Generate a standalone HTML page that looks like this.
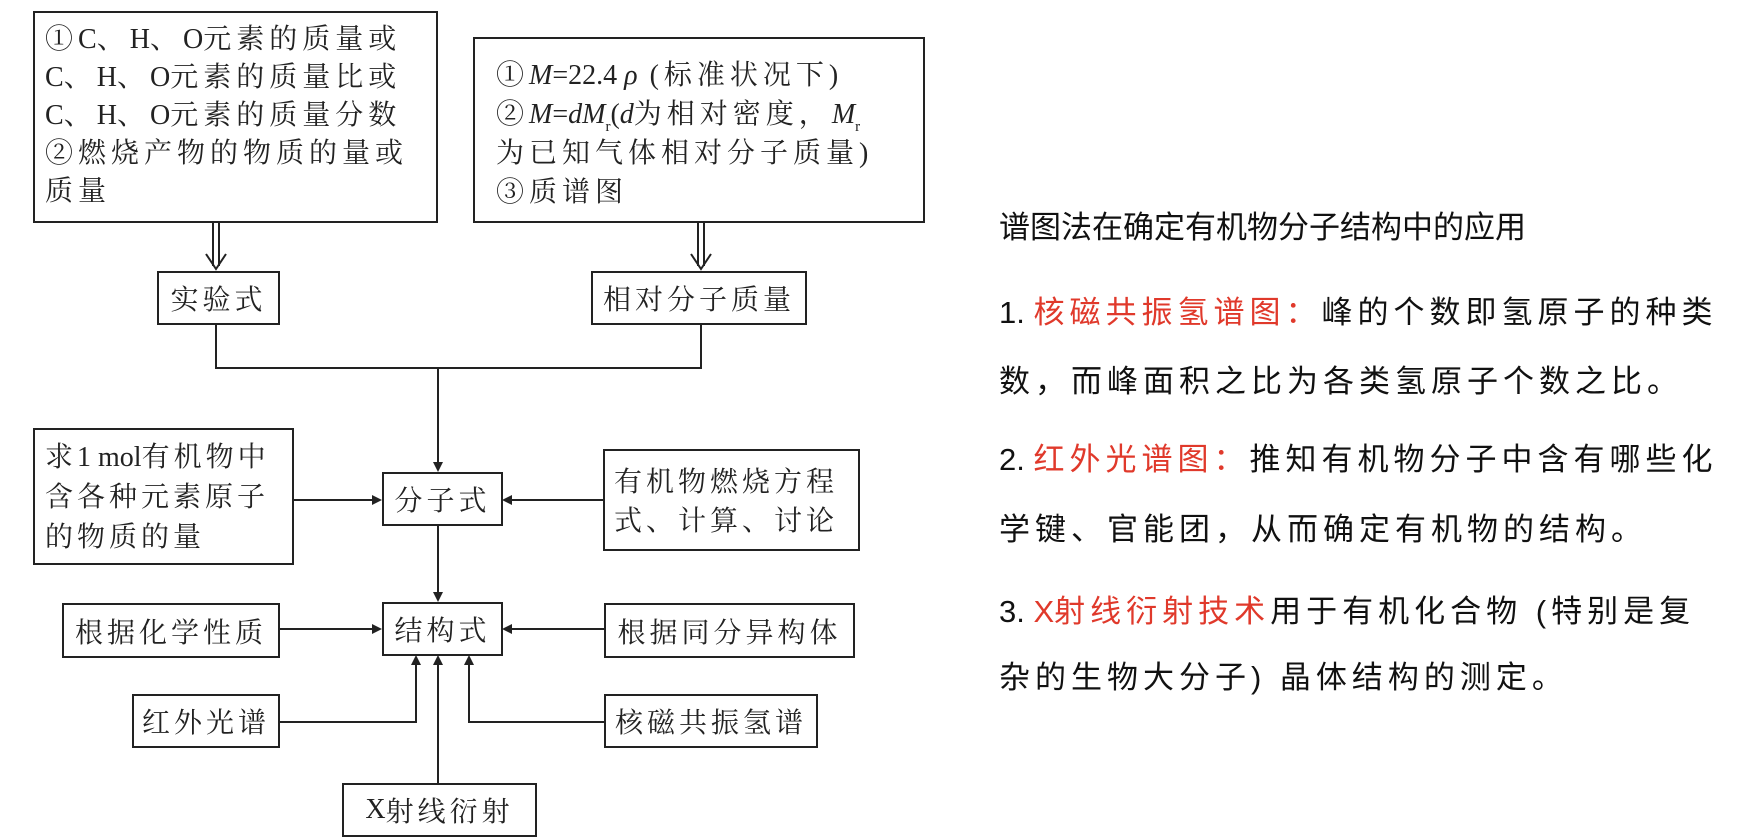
<!DOCTYPE html>
<html><head><meta charset="utf-8"><style>
body{margin:0;background:#fff;}
#c{position:relative;width:1761px;height:840px;overflow:hidden;background:#fff;}
.b{position:absolute;border:2px solid #222;box-sizing:border-box;}
.t{position:absolute;white-space:nowrap;font-family:"Liberation Serif","Noto Serif CJK SC",serif;font-size:28px;color:#222;letter-spacing:5px;line-height:38px;}
.c{display:flex;align-items:center;justify-content:center;font-family:"Liberation Serif","Noto Serif CJK SC",serif;font-size:28px;color:#222;letter-spacing:4px;white-space:nowrap;}
.r{position:absolute;white-space:nowrap;font-family:"Liberation Sans","Noto Sans CJK SC",sans-serif;color:#111;font-size:31px;letter-spacing:5px;line-height:40px;}
.red{color:#e0392b;}
i{font-style:italic;font-family:"Liberation Serif",serif;letter-spacing:0;}
.l{letter-spacing:0;}
.s{font-size:15px;position:relative;top:8px;line-height:0;letter-spacing:0;}
</style></head><body><div id="c">
<svg width="1761" height="840" style="position:absolute;left:0;top:0" fill="none" stroke="#222" stroke-width="2">
<line x1="213" y1="222" x2="213" y2="266"/><line x1="219" y1="222" x2="219" y2="266"/>
<polyline points="206,254 216,269 226,254"/>
<line x1="698" y1="222" x2="698" y2="266"/><line x1="704" y1="222" x2="704" y2="266"/>
<polyline points="691,254 701,269 711,254"/>
<polyline points="216,324 216,368 701,368 701,324"/>
<line x1="438" y1="368" x2="438" y2="464"/>
<line x1="438" y1="525" x2="438" y2="594"/>
<line x1="293" y1="500" x2="374" y2="500"/>
<line x1="603" y1="500" x2="510" y2="500"/>
<line x1="279" y1="629" x2="374" y2="629"/>
<line x1="604" y1="629" x2="510" y2="629"/>
<polyline points="279,722 416,722 416,663"/>
<polyline points="604,722 469,722 469,663"/>
<line x1="438" y1="783" x2="438" y2="663"/>
<g fill="#222" stroke="none">
<polygon points="433,462 443,462 438,472"/>
<polygon points="433,592 443,592 438,602"/>
<polygon points="372,495 372,505 382,500"/>
<polygon points="512,495 512,505 502,500"/>
<polygon points="372,624 372,634 382,629"/>
<polygon points="512,624 512,634 502,629"/>
<polygon points="411,665 421,665 416,655"/>
<polygon points="464,665 474,665 469,655"/>
<polygon points="433,665 443,665 438,655"/>
</g>
</svg>

<div class="b" style="left:33px;top:11px;width:405px;height:212px"></div>
<div class="t" style="left:45px;top:21px">①<span class="l">C</span>、<span class="l">H</span>、<span class="l">O</span>元素的质量或<br><span class="l">C</span>、<span class="l">H</span>、<span class="l">O</span>元素的质量比或<br><span class="l">C</span>、<span class="l">H</span>、<span class="l">O</span>元素的质量分数<br>②燃烧产物的物质的量或<br>质量</div>

<div class="b" style="left:473px;top:37px;width:452px;height:186px"></div>
<div class="t" style="left:496px;top:56px;line-height:39px">①<i>M</i><span class="l">=22.4 </span><i>ρ</i> (标准状况下)<br>②<i>M</i><span class="l">=</span><i>dM</i><span class="s">r</span><span class="l">(</span><i>d</i>为相对密度，<i>M</i><span class="s">r</span><br>为已知气体相对分子质量)<br>③质谱图</div>

<div class="b c" style="left:157px;top:271px;width:123px;height:54px">实验式</div>
<div class="b c" style="left:591px;top:271px;width:216px;height:54px">相对分子质量</div>

<div class="b" style="left:33px;top:428px;width:261px;height:137px"></div>
<div class="t" style="left:45px;top:438px;line-height:40px;letter-spacing:4px">求<span class="l">1 mol</span>有机物中<br>含各种元素原子<br>的物质的量</div>

<div class="b c" style="left:382px;top:472px;width:121px;height:54px">分子式</div>

<div class="b" style="left:603px;top:449px;width:257px;height:102px"></div>
<div class="t" style="left:614px;top:463px;line-height:39px;letter-spacing:4px">有机物燃烧方程<br>式、计算、讨论</div>

<div class="b c" style="left:382px;top:602px;width:121px;height:54px">结构式</div>
<div class="b c" style="left:62px;top:603px;width:218px;height:55px">根据化学性质</div>
<div class="b c" style="left:604px;top:603px;width:251px;height:55px">根据同分异构体</div>
<div class="b c" style="left:132px;top:694px;width:148px;height:54px">红外光谱</div>
<div class="b c" style="left:604px;top:694px;width:214px;height:54px">核磁共振氢谱</div>
<div class="b c" style="left:342px;top:783px;width:195px;height:54px"><span class="l">X</span>射线衍射</div>

<div class="r" style="left:999px;top:208px;letter-spacing:0">谱图法在确定有机物分子结构中的应用</div>
<div class="r" style="left:999px;top:293px"><span class="l">1. </span><span class="red">核磁共振氢谱图：</span>峰的个数即氢原子的种类</div>
<div class="r" style="left:999px;top:362px">数，而峰面积之比为各类氢原子个数之比。</div>
<div class="r" style="left:999px;top:440px"><span class="l">2. </span><span class="red">红外光谱图：</span>推知有机物分子中含有哪些化</div>
<div class="r" style="left:999px;top:510px">学键、官能团，从而确定有机物的结构。</div>
<div class="r" style="left:999px;top:592px"><span class="l">3. </span><span class="red"><span class="l">X</span>射线衍射技术</span>用于有机化合物 (特别是复</div>
<div class="r" style="left:999px;top:658px">杂的生物大分子) 晶体结构的测定。</div>
</div></body></html>
